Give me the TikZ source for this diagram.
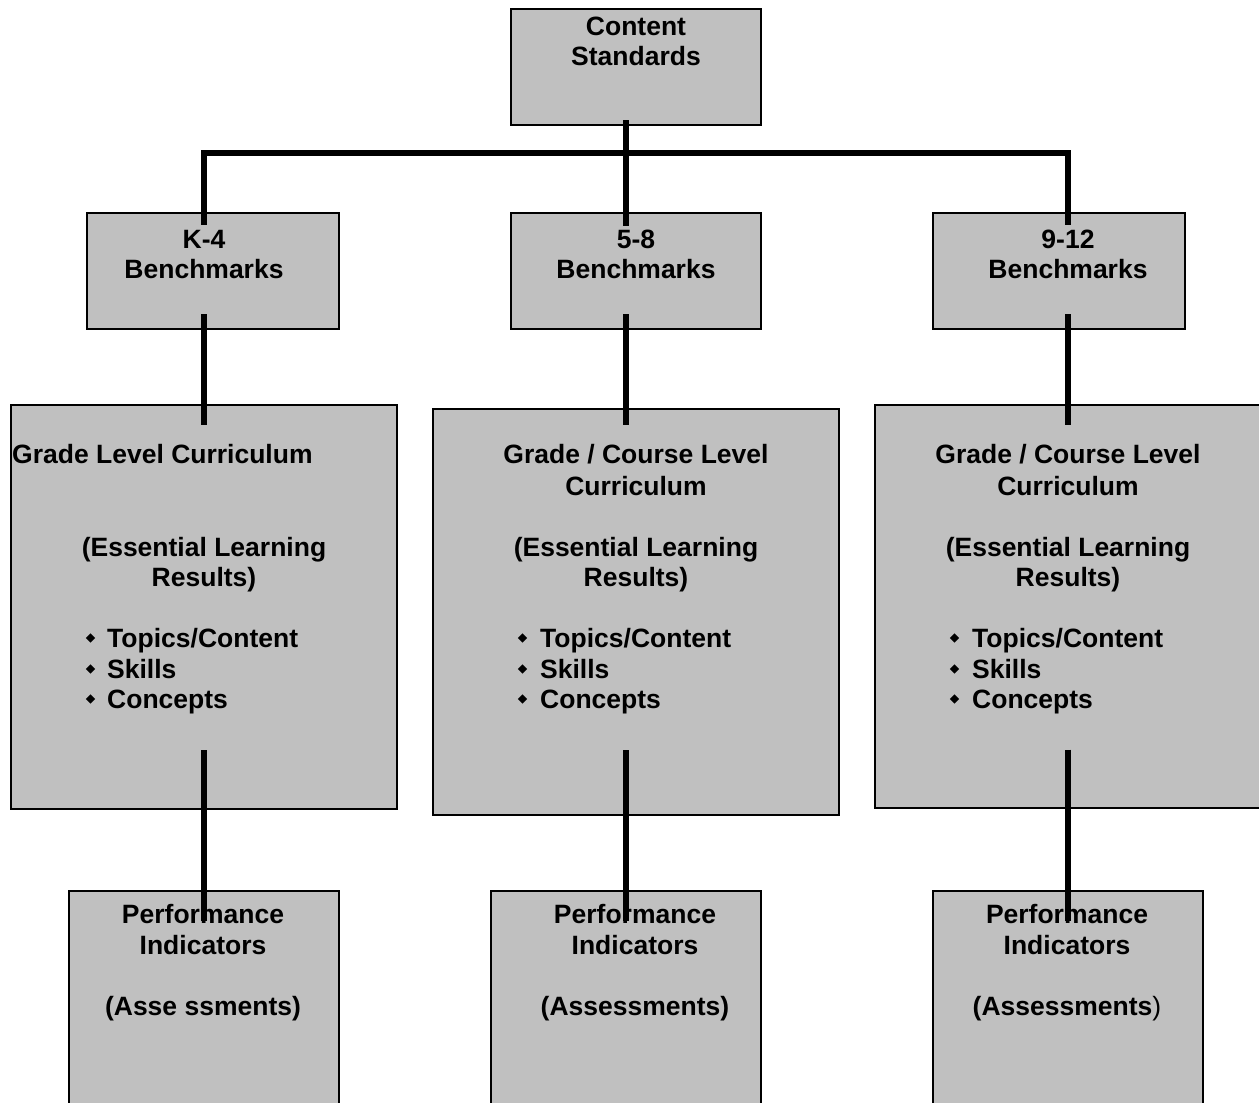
\documentclass[tikz,border=0pt]{standalone}
\usepackage{fontspec}
\setmainfont{Liberation Sans}
\usetikzlibrary{shapes.geometric}
\begin{document}
\begin{tikzpicture}[x=1pt,y=-1pt,
  box/.style={draw=black,line width=2.2pt,fill=boxgray,inner sep=0pt,rectangle},
  txt/.style={inner sep=0pt,font=\bfseries\fontsize{26.5pt}{31pt}\selectfont,text=black},
  bul/.style={diamond,fill=black,inner sep=0pt,minimum width=9.5pt,minimum height=9.5pt},
  conn/.style={line width=6.5pt,black,line cap=butt,line join=miter}]
\definecolor{boxgray}{HTML}{C0C0C0}
\useasboundingbox (0,0) rectangle (1259,1103);
\fill[white] (0,0) rectangle (1259,1103);
% boxes
\node[box,minimum width=250pt,minimum height=116pt] (cs) at (636,67) {};
\node[box,minimum width=252pt,minimum height=116pt] (k4) at (213,271) {};
\node[box,minimum width=250pt,minimum height=116pt] (b58) at (636,271) {};
\node[box,minimum width=252pt,minimum height=116pt] (b912) at (1059,271) {};
\node[box,minimum width=386pt,minimum height=404pt] (cur1) at (204,607) {};
\node[box,minimum width=406pt,minimum height=406pt] (cur2) at (636,612) {};
\node[box,minimum width=388pt,minimum height=403pt] (cur3) at (1069,606.5) {};
\node[box,minimum width=270pt,minimum height=230pt] (p1) at (204,1006) {};
\node[box,minimum width=270pt,minimum height=230pt] (p2) at (626,1006) {};
\node[box,minimum width=270pt,minimum height=230pt] (p3) at (1068,1006) {};
% texts: top
\node[txt,anchor=base] (t-cs1) at (636,35) {Content};
\node[txt,anchor=base] (t-cs2) at (636,65) {Standards};
\node[txt,anchor=base] (t-k41) at (204,248) {K-4};
\node[txt,anchor=base] (t-k42) at (204,278) {Benchmarks};
\node[txt,anchor=base] (t-581) at (636,248) {5-8};
\node[txt,anchor=base] (t-582) at (636,278) {Benchmarks};
\node[txt,anchor=base] (t-9121) at (1068,248) {9-12};
\node[txt,anchor=base] (t-9122) at (1068,278) {Benchmarks};
% curriculum 1
\node[txt,anchor=base west] (t-c1a) at (12,463) {Grade Level Curriculum};
\node[txt,anchor=base] (t-c1b) at (204,556) {(Essential Learning};
\node[txt,anchor=base] (t-c1c) at (204,586) {Results)};
\node[txt,anchor=base west] (t-c1d) at (107,647) {Topics/Content};
\node[txt,anchor=base west] (t-c1e) at (107,678) {Skills};
\node[txt,anchor=base west] (t-c1f) at (107,708) {Concepts};
\node[bul] (b-c1d) at (90.5,638) {};
\node[bul] (b-c1e) at (90.5,669) {};
\node[bul] (b-c1f) at (90.5,699) {};
% curriculum 2
\node[txt,anchor=base] (t-c2a) at (636,463) {Grade / Course Level};
\node[txt,anchor=base] (t-c2b) at (636,495) {Curriculum};
\node[txt,anchor=base] (t-c2c) at (636,556) {(Essential Learning};
\node[txt,anchor=base] (t-c2d) at (636,586) {Results)};
\node[txt,anchor=base west] (t-c2e) at (540,647) {Topics/Content};
\node[txt,anchor=base west] (t-c2f) at (540,678) {Skills};
\node[txt,anchor=base west] (t-c2g) at (540,708) {Concepts};
\node[bul] (b-c2e) at (522.5,638) {};
\node[bul] (b-c2f) at (522.5,669) {};
\node[bul] (b-c2g) at (522.5,699) {};
% curriculum 3
\node[txt,anchor=base] (t-c3a) at (1068,463) {Grade / Course Level};
\node[txt,anchor=base] (t-c3b) at (1068,495) {Curriculum};
\node[txt,anchor=base] (t-c3c) at (1068,556) {(Essential Learning};
\node[txt,anchor=base] (t-c3d) at (1068,586) {Results)};
\node[txt,anchor=base west] (t-c3e) at (972,647) {Topics/Content};
\node[txt,anchor=base west] (t-c3f) at (972,678) {Skills};
\node[txt,anchor=base west] (t-c3g) at (972,708) {Concepts};
\node[bul] (b-c3e) at (954.5,638) {};
\node[bul] (b-c3f) at (954.5,669) {};
\node[bul] (b-c3g) at (954.5,699) {};
% performance
\node[txt,anchor=base] (t-p1a) at (203,923) {Performance};
\node[txt,anchor=base] (t-p1b) at (203,954) {Indicators};
\node[txt,anchor=base] (t-p1c) at (203,1015) {(Asse ssments)};
\node[txt,anchor=base] (t-p2a) at (635,923) {Performance};
\node[txt,anchor=base] (t-p2b) at (635,954) {Indicators};
\node[txt,anchor=base] (t-p2c) at (635,1015) {(Assessments)};
\node[txt,anchor=base] (t-p3a) at (1067,923) {Performance};
\node[txt,anchor=base] (t-p3b) at (1067,954) {Indicators};
\node[txt,anchor=base] (t-p3c) at (1067,1015) {(Assessments\mdseries)};
% connectors
\draw[conn] ([xshift=-10pt,yshift=6pt]cs.south) -- ([xshift=-10pt,yshift=-14pt]b58.north);
\draw[conn] ([xshift=-9pt,yshift=-13pt]k4.north) |- ([yshift=-27pt]cs.south) -| ([xshift=9pt,yshift=-13pt]b912.north);
\draw[conn] ([xshift=-9pt,yshift=16pt]k4.south) -- ([yshift=-21pt]cur1.north);
\draw[conn] ([xshift=-10pt,yshift=16pt]b58.south) -- ([xshift=-10pt,yshift=-17pt]cur2.north);
\draw[conn] ([xshift=9pt,yshift=16pt]b912.south) -- ([xshift=-1pt,yshift=-21pt]cur3.north);
\draw[conn] ([yshift=60pt]cur1.south) -- ([yshift=-31pt]p1.north);
\draw[conn] ([xshift=-10pt,yshift=66pt]cur2.south) -- ([yshift=-31pt]p2.north);
\draw[conn] ([xshift=-1pt,yshift=59.5pt]cur3.south) -- ([yshift=-31pt]p3.north);
\end{tikzpicture}
\end{document}
